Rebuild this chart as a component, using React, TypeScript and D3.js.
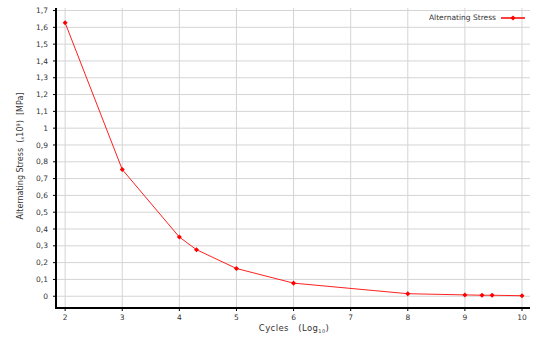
import React from 'react';
import * as d3 from 'd3';

// S-N curve data (log10 cycles vs alternating stress x10^9 MPa)
const cycles = [2, 3, 4, 4.3, 5, 6, 8, 9, 9.3, 9.477, 10];
const stress = [1.627, 0.754, 0.352, 0.277, 0.165, 0.078, 0.015, 0.008, 0.006, 0.006, 0.003];
const xTicks = [2, 3, 4, 5, 6, 7, 8, 9, 10];
const yTicks = d3.range(0, 18).map(i => i / 10);
const seriesName = 'Alternating Stress';

const W = 534;
const H = 338;
const left = 56, right = 530, top = 8, bottom = 308;

function App() {
  const x = d3.scaleLinear().domain([1.84, 10.14]).range([left, right]);
  const y = d3.scaleLinear().domain([-0.07, 1.715]).range([bottom, top]);
  const pts = cycles.map((c, i) => [c, stress[i]] as [number, number]);
  const line = d3.line<[number, number]>().x(d => x(d[0])).y(d => y(d[1]));
  const fmt = (v: number) => (Math.round(v * 10) / 10).toString().replace('.', ',');
  const marker = d3.symbol().type(d3.symbolDiamond2).size(16)();

  return (
    <svg width={W} height={H} style={{ position: 'absolute', left: 0, top: 0, background: '#fff' }}
      fontFamily="DejaVu Sans, sans-serif">
      {/* grid */}
      {yTicks.map(t => (
        <line key={'gy' + t} x1={left} x2={right} y1={y(t)} y2={y(t)} stroke="#d4d4d4" strokeWidth={1} />
      ))}
      {xTicks.map(t => (
        <line key={'gx' + t} x1={x(t)} x2={x(t)} y1={top} y2={bottom} stroke="#d4d4d4" strokeWidth={1} />
      ))}
      {/* y ticks */}
      {yTicks.map(t => (
        <g key={'ty' + t}>
          <line x1={left - 3} x2={left} y1={y(t)} y2={y(t)} stroke="#000" />
          <text x={left - 8} y={y(t)} dy="0.35em" textAnchor="end" fontSize={7.5} fill="#333">{fmt(t)}</text>
        </g>
      ))}
      {/* x ticks */}
      {xTicks.map(t => (
        <g key={'tx' + t}>
          <line x1={x(t)} x2={x(t)} y1={bottom} y2={bottom + 3} stroke="#000" />
          <text x={x(t)} y={bottom + 12} textAnchor="middle" fontSize={7.5} fill="#333">{t}</text>
        </g>
      ))}
      {/* axes */}
      <line x1={left} x2={left} y1={top} y2={bottom + 1} stroke="#000" strokeWidth={2} />
      <line x1={left - 1} x2={right} y1={bottom} y2={bottom} stroke="#000" strokeWidth={2} />
      {/* series */}
      <path d={line(pts) || ''} fill="none" stroke="#ff2020" strokeWidth={1} />
      {pts.map((p, i) => (
        <path key={'m' + i} d={marker || ''} transform={`translate(${x(p[0])},${y(p[1])})`} fill="#ff0000" />
      ))}
      {/* axis titles */}
      <text x={294} y={331} textAnchor="middle" fontSize={8.5} letterSpacing={0.4} fill="#333">
        Cycles{'\u00a0\u00a0\u00a0'}(Log<tspan fontSize={5} dy={2}>10</tspan><tspan dy={-2}>)</tspan>
      </text>
      <text transform={`translate(23,${(top + bottom) / 2 - 2}) rotate(-90)`} textAnchor="middle" fontSize={8} fill="#333">
        Alternating Stress{'\u00a0\u00a0'}(<tspan fontSize={5} dy={1}>x</tspan><tspan dy={-1}>10</tspan><tspan fontSize={5} dy={-3}>9</tspan><tspan dy={3}>)</tspan>{'\u00a0\u00a0'}[MPa]
      </text>
      {/* legend */}
      <text x={496} y={20} textAnchor="end" fontSize={7.5} fill="#333">{seriesName}</text>
      <line x1={501} x2={525} y1={18} y2={18} stroke="#ff0000" strokeWidth={1.5} />
      <path d={marker || ''} transform="translate(513,18)" fill="#ff0000" />
    </svg>
  );
}

export default App;
